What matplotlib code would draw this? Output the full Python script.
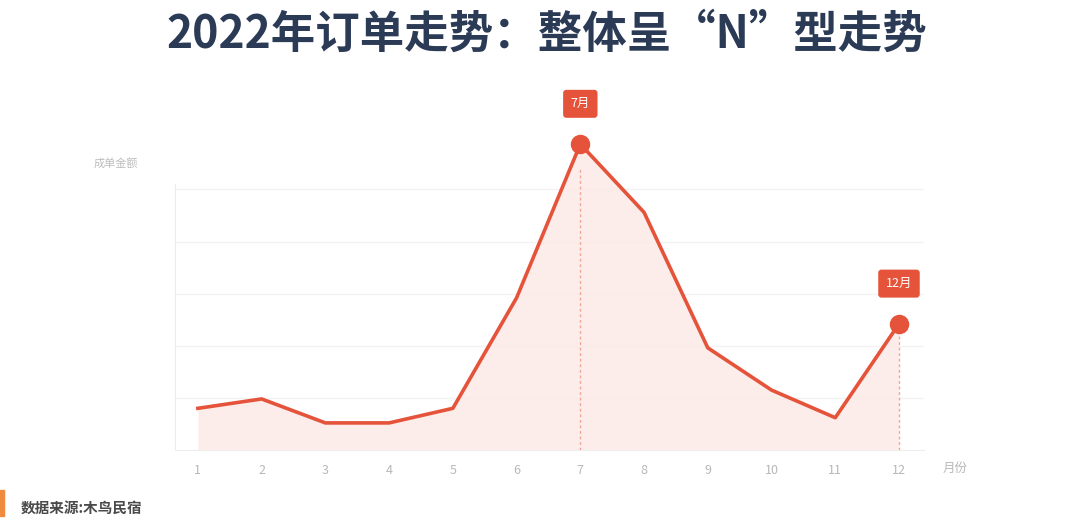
import matplotlib
matplotlib.use('Agg')
import matplotlib.pyplot as plt
from matplotlib.patches import Rectangle

plt.rcParams['font.family'] = ['Noto Sans CJK SC', 'DejaVu Sans']

# ==== data ==== #
MONTHS = [1, 2, 3, 4, 5, 6, 7, 8, 9, 10, 11, 12]
AMOUNTS = [80, 98, 52, 52, 80, 292, 587, 456, 196, 115, 62, 242]
HIGHLIGHT_MONTHS = [7, 12]
HIGHLIGHT_LABELS = ['7月', '12月']
GRID_LEVELS = [100, 200, 300, 400, 500]

TITLE = '2022年订单走势：整体呈“N”型走势'
Y_LABEL = '成单金额'
X_LABEL = '月份'
SOURCE = '数据来源:木鸟民宿'

LINE_COLOR = '#E5533A'
FILL_COLOR = '#FCE9E5'
TITLE_COLOR = '#2B3A55'
TICK_COLOR = '#B8B8B8'


def drawChart():
    fig = plt.figure(figsize=(10.8, 5.28), dpi=100)
    fig.patch.set_facecolor('white')
    ax = fig.add_axes([0.162, 0.1477, 0.694, 0.533])

    ax.set_xlim(0.64, 12.4)
    ax.set_ylim(0, 540)

    for level in GRID_LEVELS:
        ax.axhline(level, color='#F3F3F3', linewidth=1.0, zorder=0)

    ax.fill_between(MONTHS, AMOUNTS, 0, color=FILL_COLOR, alpha=0.8, zorder=1,
                    linewidth=0, clip_on=False)
    ax.plot(MONTHS, AMOUNTS, color=LINE_COLOR, linewidth=2.6, zorder=3,
            solid_joinstyle='round', clip_on=False)

    for month, label in zip(HIGHLIGHT_MONTHS, HIGHLIGHT_LABELS):
        value = AMOUNTS[MONTHS.index(month)]
        ax.plot([month, month], [0, value], color='#F2A596', linewidth=1.0,
                linestyle=(0, (2, 2)), zorder=2)
        ax.plot(month, value, 'o', color=LINE_COLOR, markersize=13, zorder=4, clip_on=False)
        ax.annotate(label, (month, value), xytext=(0, 29), textcoords='offset points',
                    ha='center', va='center', fontsize=9, color='white',
                    bbox=dict(boxstyle='round,pad=0.6,rounding_size=0.25',
                              fc=LINE_COLOR, ec='none'),
                    annotation_clip=False)

    for side in ['top', 'right']:
        ax.spines[side].set_visible(False)
    ax.spines['left'].set_color('#EDEDED')
    ax.spines['bottom'].set_color('#EDEDED')
    ax.spines['left'].set_bounds(0, 510)

    ax.set_xticks(MONTHS)
    ax.set_xticklabels([str(m) for m in MONTHS])
    ax.tick_params(axis='x', length=0, colors=TICK_COLOR, labelsize=9, pad=10)
    ax.set_yticks([])

    fig.text(0.107, 0.69, Y_LABEL, fontsize=8, color='#BDBDBD', ha='center', va='center')
    fig.text(0.884, 0.113, X_LABEL, fontsize=9, color=TICK_COLOR, ha='center', va='center')

    fig.text(0.506, 0.935, TITLE, fontsize=32, fontweight='heavy', color=TITLE_COLOR,
             ha='center', va='center')

    fig.patches.append(Rectangle((0, 0.022), 0.004, 0.05, transform=fig.transFigure,
                                 color='#F08A3C', zorder=5))
    fig.text(0.019, 0.038, SOURCE, fontsize=10.5, fontweight='bold', color='#4A4A4A',
             ha='left', va='center')

    fig.savefig('out.png', dpi=100, facecolor='white')


if __name__ == '__main__':
    drawChart()
